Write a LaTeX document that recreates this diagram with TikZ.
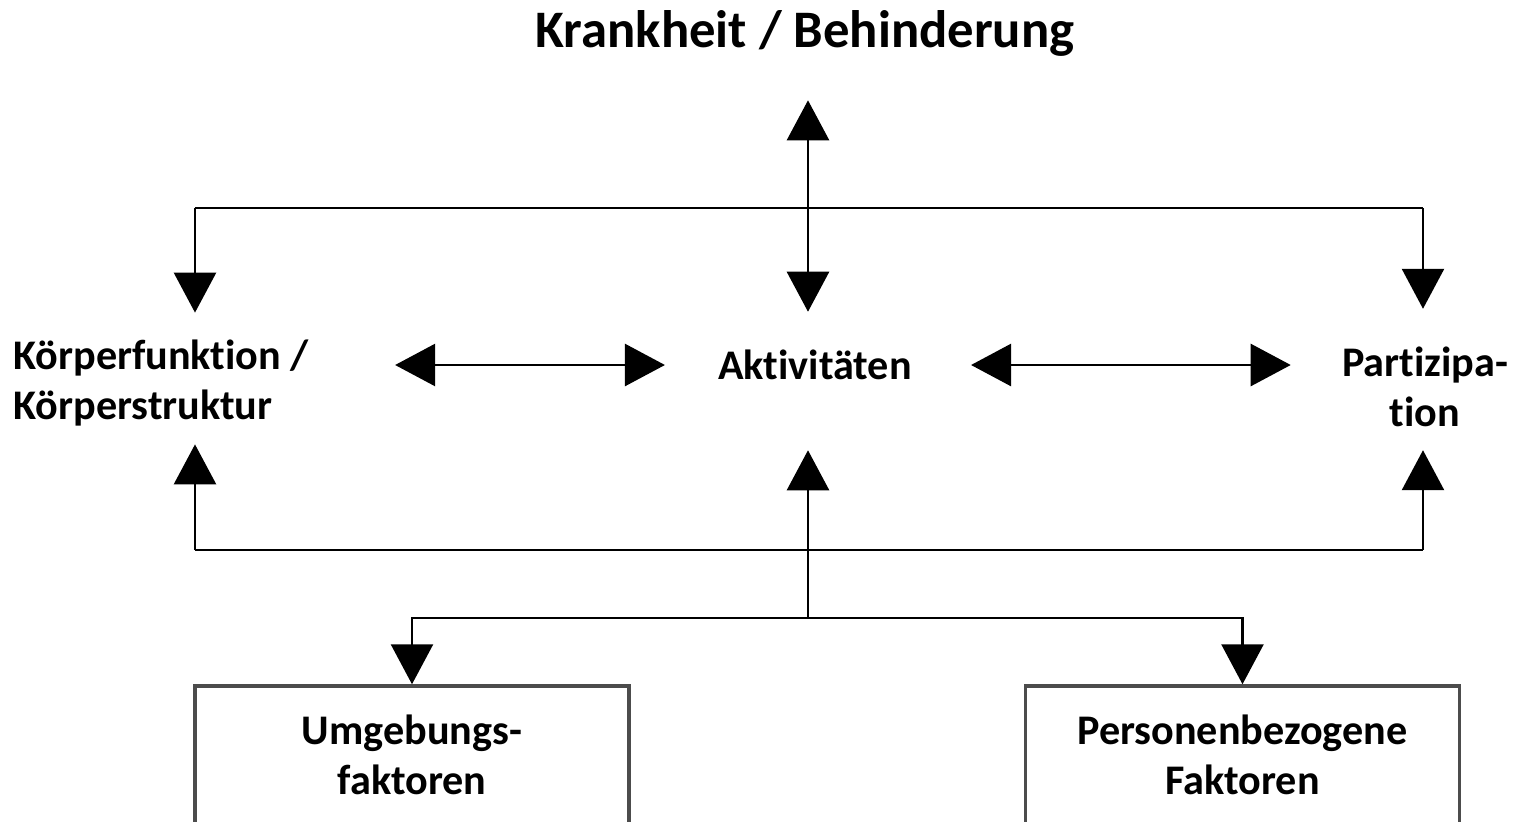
\documentclass[tikz,border=0pt]{standalone}
\usepackage{fontspec}
\setmainfont{Carlito}[Ligatures=NoCommon]
\usepackage{tikz}
\usetikzlibrary{arrows.meta,positioning}

\begin{document}
\begin{tikzpicture}[
    >={Triangle[width=4.2mm,length=4mm]},
    font=\bfseries\fontsize{12}{14.2}\selectfont,
    line width=0.75pt,
    term/.style={
		inner sep=0pt,
		align=center
	},
	factor/.style={
		rectangle,
		draw=black!70,
		line width=1pt,
		align=center,
		minimum width=4.34cm,
		minimum height=1.38cm
	}
  ]
  \useasboundingbox (0,0) rectangle (15.14,-8.22);

    % We start by placing the blocks
  \node [term, font=\bfseries\fontsize{15}{18}\selectfont] (krank) at (8.05,-0.33) {Krankheit / Behinderung};
  \node [term, align=left, anchor=west] (koerper) at (0.12,-3.83) {Körperfunktion /\\Körperstruktur};
  \node [term] (akt) at (8.15,-3.65) {Aktivitäten};
  \node [term] (part) at (14.25,-3.87) {Partizipa-\\tion};

  \node [factor] (umw) at (4.12,-7.55) {Umgebungs-\\faktoren};
  \node [factor] (pers) at (12.425,-7.55) {Personenbezogene\\Faktoren};

  % bus points
  \coordinate (hubL) at (1.95,-2.08);
  \coordinate (hub) at (8.08,-2.08);
  \coordinate (hubR) at (14.23,-2.08);
  \coordinate (busL) at (1.95,-5.50);
  \coordinate (busM) at (8.08,-5.50);
  \coordinate (busR) at (14.23,-5.50);
  \coordinate (split) at (8.08,-6.18);

 \draw (hubL) -- (hubR);
 \draw [->, shorten >=0.43cm] (hub) -- (hub |- krank.south);
 \draw [->, shorten >=0.37cm] (hub) -- (hub |- akt.north);
 \draw [->, shorten >=0.26cm] (hubL) -- (hubL |- koerper.north);
 \draw [->, shorten >=0.37cm] (hubR) -- (hubR |- part.north);

 \draw [<->, shorten <=0.85cm, shorten >=0.52cm] (koerper.east |- akt) -- (akt.west);
 \draw [<->, shorten <=0.58cm, shorten >=0.50cm] (akt.east) -- (part.west |- akt);

 \draw (busL) -- (busR);
 \draw [->, shorten >=0.17cm] (busL) -- (busL |- koerper.south);
 \draw [->, shorten >=0.69cm] (busM) -- (busM |- akt.south);
 \draw [->, shorten >=0.22cm] (busR) -- (busR |- part.south);

 \draw (busM) -- (split);
 \draw [->] (split) -| (umw.north);
 \draw [->] (split) -| (pers.north);

\end{tikzpicture}
\end{document}
